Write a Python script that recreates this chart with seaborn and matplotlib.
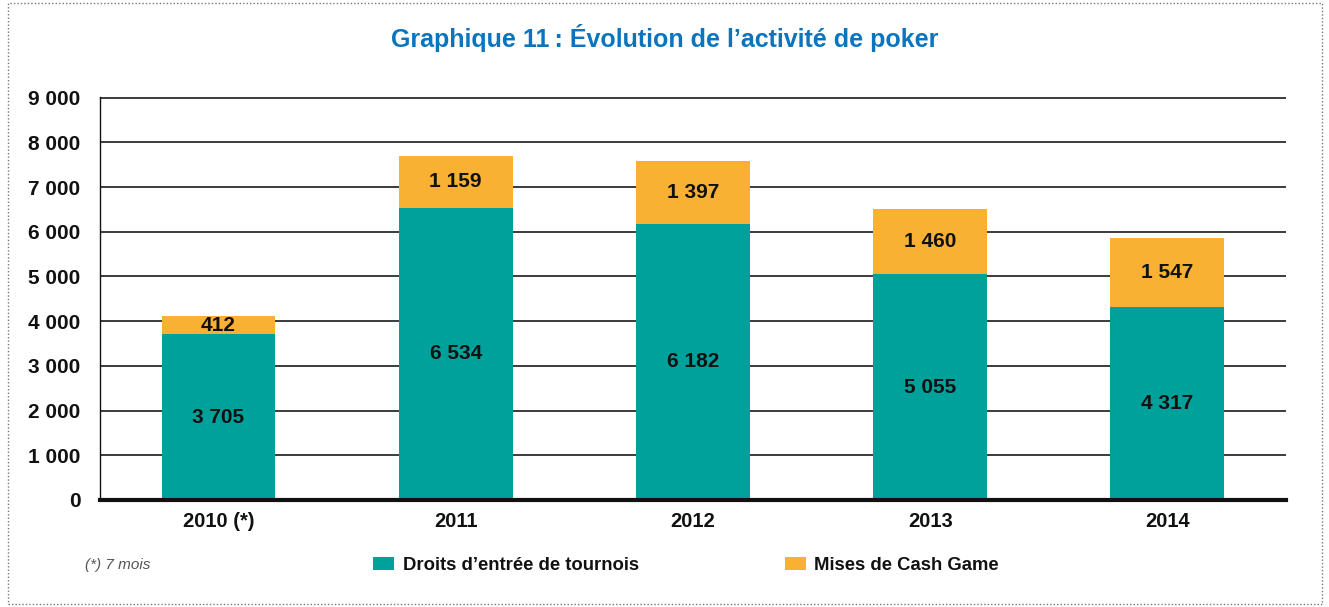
import numpy as np
import pandas as pd
import seaborn as sns
import matplotlib
matplotlib.use('Agg')
import matplotlib.pyplot as plt
from matplotlib.patches import Patch, Rectangle

# data (millions d'euros)
annees = ['2010 (*)', '2011', '2012', '2013', '2014']
tournois = [3705, 6534, 6182, 5055, 4317]
cash_game = [412, 1159, 1397, 1460, 1547]
yticks = [0, 1000, 2000, 3000, 4000, 5000, 6000, 7000, 8000, 9000]

teal = '#00a19a'
orange = '#f8b133'
bleu = '#0a75bd'

sns.set_theme(style='white')
plt.rcParams['font.family'] = ['Liberation Sans', 'DejaVu Sans']

df = pd.DataFrame({'annee': annees, 'tournois': tournois, 'cash': cash_game})
df['total'] = df['tournois'] + df['cash']

def fmt(v):
    return f'{v:,}'.replace(',', ' ')

fig = plt.figure(figsize=(13.29, 6.07), dpi=100)
ax = fig.add_axes([0.0752, 0.1763, 0.8924, 0.6639])

sns.barplot(data=df, x='annee', y='total', color=orange, width=0.48,
            saturation=1, ax=ax, zorder=3, edgecolor='none', linewidth=0)
sns.barplot(data=df, x='annee', y='tournois', color=teal, width=0.48,
            saturation=1, ax=ax, zorder=3, edgecolor='none', linewidth=0)

# value labels
for i, row in df.iterrows():
    ax.text(i, row['tournois'] / 2, fmt(row['tournois']), ha='center', va='center',
            fontsize=15, fontweight='bold', color='#111111', zorder=5)
    ax.text(i, row['tournois'] + row['cash'] / 2, fmt(row['cash']), ha='center',
            va='center', fontsize=15, fontweight='bold', color='#111111', zorder=5)

ax.set_ylim(0, 9015)
ax.set_xlim(-0.5, 4.5)
ax.set_yticks(yticks)
ax.set_yticklabels([fmt(v) for v in yticks], fontsize=15, fontweight='bold')
ax.set_xticks(range(len(annees)))
ax.set_xticklabels(annees, fontsize=14.5, fontweight='bold')
ax.tick_params(axis='y', length=0, pad=14, colors='#111111')
ax.tick_params(axis='x', length=0, pad=9, colors='#111111')
ax.set_xlabel('')
ax.set_ylabel('')

ax.yaxis.grid(True, color='#1a1a1a', linewidth=1.2, zorder=0)
ax.set_axisbelow(True)
for s in ['top', 'right']:
    ax.spines[s].set_visible(False)
ax.spines['left'].set_color('#111111')
ax.spines['left'].set_linewidth(1.0)
ax.spines['bottom'].set_color('#111111')
ax.spines['bottom'].set_linewidth(3)
ax.spines['bottom'].set_zorder(4)

# title
fig.text(0.5005, 1 - 38 / 607, 'Graphique 11\u202f: Évolution de l\u2019activité de poker',
         ha='center', va='center', fontsize=18, fontweight='bold', color=bleu)

# legend
handles = [Patch(facecolor=teal, edgecolor='none'),
           Patch(facecolor=orange, edgecolor='none')]
leg = fig.legend(handles, ['Droits d\u2019entrée de tournois', 'Mises de Cash Game'],
                 loc='center left', bbox_to_anchor=(364 / 1329, 1 - 565 / 607),
                 ncol=2, frameon=False, handlelength=1.15, handleheight=0.7,
                 handletextpad=0.45, columnspacing=7.9, borderpad=0,
                 prop={'weight': 'bold', 'size': 13.3})
for t in leg.get_texts():
    t.set_color('#111111')

fig.text(85 / 1329, 1 - 565 / 607, '(*) 7 mois', ha='left', va='center',
         fontsize=11, style='italic', color='#555555')

# dotted frame
fig.patches.append(Rectangle((8 / 1329, 3 / 607), 1314 / 1329, 601 / 607,
                             transform=fig.transFigure, fill=False,
                             edgecolor='#777777', linestyle=(0, (1, 1.5)),
                             linewidth=1.0))

fig.savefig('out.png', dpi=100)
